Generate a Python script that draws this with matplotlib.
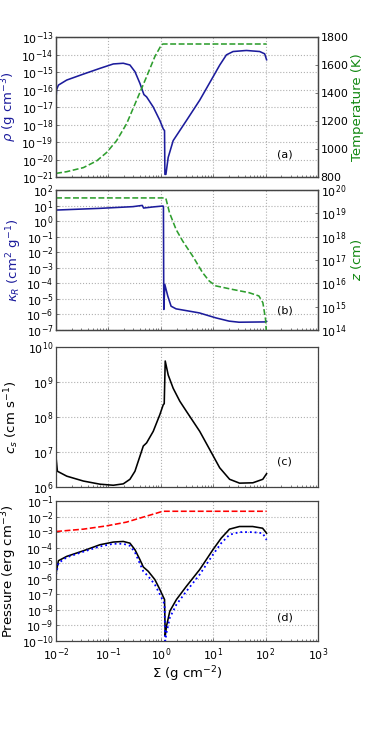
import numpy as np
import matplotlib
matplotlib.use("Agg")
import matplotlib.pyplot as plt

# ---------------- data (log10 values) ----------------
# Panel (a): density
rho_logS = [-2.0, -1.99, -1.956, -1.797, -1.479, -1.161, -0.907, -0.717, -0.590, -0.494,
            -0.399, -0.323, -0.272, -0.145, -0.018, 0.046, 0.071, 0.078, 0.097, 0.141,
            0.236, 0.490, 0.745, 0.999, 1.126, 1.253, 1.380, 1.634, 1.888, 1.983, 2.02]
rho_log = [-16.42, -16.0, -15.75, -15.46, -15.12, -14.79, -14.54, -14.50, -14.60, -14.98,
           -15.65, -16.29, -16.42, -17.0, -17.77, -18.25, -18.35, -20.85, -20.85, -19.88,
           -18.92, -17.77, -16.6, -15.27, -14.6, -14.02, -13.83, -13.77, -13.83, -13.96, -14.3]
# Panel (a): temperature (K)
T_logS = [-2.0, -1.797, -1.479, -1.225, -1.035, -0.844, -0.654, -0.463, -0.272, -0.114, 0.013, 0.045, 2.02]
T_K = [826, 838, 867, 915, 975, 1060, 1180, 1348, 1516, 1660, 1745, 1750, 1750]

# Panel (b): Rosseland opacity
kap_logS = [-2.0, -1.165, -0.532, -0.354, -0.329, -0.152, 0.038, 0.050, 0.057, 0.076,
            0.133, 0.196, 0.291, 0.734, 1.051, 1.304, 1.494, 2.0, 2.02]
kap_log = [0.71, 0.82, 0.93, 1.01, 0.84, 0.91, 0.97, 0.95, -5.68, -4.07,
           -4.82, -5.47, -5.64, -5.9, -6.22, -6.43, -6.5, -6.48, -6.45]
# Panel (b): height z (cm)
z_logS = [-2.0, 0.088, 0.101, 0.165, 0.291, 0.418, 0.608, 0.797, 0.924, 1.051, 1.367, 1.684,
          1.873, 1.949, 2.0, 2.013, 2.025]
z_log = [19.66, 19.66, 19.6, 19.03, 18.31, 17.81, 17.17, 16.46, 16.1, 15.89, 15.74, 15.6,
         15.46, 15.17, 14.46, 14.0, 13.5]

# Panel (c): sound speed
cs_logS = [-2.0, -1.975, -1.797, -1.479, -1.161, -0.907, -0.717, -0.590, -0.494, -0.399,
           -0.335, -0.272, -0.145, -0.018, 0.046, 0.065, 0.084, 0.141, 0.236, 0.363,
           0.490, 0.743, 0.934, 1.124, 1.314, 1.504, 1.757, 1.947, 2.02]
cs_log = [6.83, 6.45, 6.31, 6.17, 6.08, 6.05, 6.09, 6.22, 6.45, 6.88,
          7.17, 7.26, 7.59, 8.07, 8.35, 8.38, 9.6, 9.2, 8.82, 8.45,
          8.16, 7.59, 7.07, 6.55, 6.22, 6.11, 6.12, 6.22, 6.38]

# Panel (d): pressures
prad_logS = [-2.0, -1.481, -1.038, -0.658, -0.342, -0.089, 0.038, 2.02]
prad_log = [-2.96, -2.81, -2.6, -2.36, -2.04, -1.79, -1.66, -1.66]

p_logS = [-2.0, -1.956, -1.797, -1.479, -1.161, -0.907, -0.717, -0.590, -0.494, -0.399,
          -0.335, -0.240, -0.114, -0.018, 0.046, 0.071, 0.084, 0.109, 0.172, 0.299,
          0.489, 0.742, 0.995, 1.153, 1.311, 1.501, 1.754, 1.944, 2.02]
ptot_log = [-5.63, -4.84, -4.56, -4.2, -3.81, -3.64, -3.6, -3.71, -4.13, -4.77,
            -5.24, -5.52, -6.05, -6.69, -7.16, -7.33, -9.68, -9.04, -8.08, -7.33,
            -6.48, -5.41, -4.13, -3.39, -2.81, -2.64, -2.64, -2.75, -3.07]
pgas_log = [-5.73, -4.99, -4.62, -4.26, -3.92, -3.75, -3.75, -3.88, -4.3, -5.03,
            -5.52, -5.84, -6.37, -7.01, -7.44, -7.65, -10.0, -9.46, -8.5, -7.65,
            -6.8, -5.73, -4.45, -3.71, -3.17, -3.0, -3.0, -3.07, -3.5]

panel_tags = ["(a)", "(b)", "(c)", "(d)"]

# ---------------- styling ----------------
plt.rcParams['font.family'] = ['DejaVu Sans']
plt.rcParams['mathtext.fontset'] = 'dejavusans'
TICK_FS = 7.9
LAB_FS = 9.5
BLUE = '#1c1c9c'
GREEN = '#2e9e2e'
GREEN_LAB = '#118811'
SPINE = '#444444'
LW = 1.15

fig = plt.figure(figsize=(3.74, 7.47), dpi=100)
L, R = 0.150, 0.850
W = R - L
H = 140 / 747
tops = [37, 190, 347, 501]
axes = []
for t in tops:
    b = 1 - (t + 140) / 747
    axes.append(fig.add_axes([L, b, W, H]))

def style(ax, xlabels=False):
    ax.set_xscale('log')
    ax.set_xlim(1e-2, 1e3)
    ax.grid(True, which='major', linestyle=':', color='#b0b0b0', linewidth=0.8)
    for s in ax.spines.values():
        s.set_color(SPINE)
        s.set_linewidth(0.9)
    ax.tick_params(which='both', direction='in', labelsize=TICK_FS, colors='black', length=2.5, width=0.5)
    ax.tick_params(which='minor', length=1.5)
    ax.tick_params(axis='both', which='both', color=SPINE, pad=2)
    if not xlabels:
        ax.tick_params(axis='x', labelbottom=False)

def S(v):
    return 10 ** np.array(v)

def style_twin(ax2):
    ax2.tick_params(direction='in', labelsize=TICK_FS, length=2.5, width=0.5, color=SPINE, pad=2)
    for s in ax2.spines.values():
        s.set_color(SPINE)
        s.set_linewidth(0.9)

# (a)
ax = axes[0]
style(ax)
ax.plot(S(rho_logS), S(rho_log), color=BLUE, lw=LW)
ax.set_yscale('log')
ax.set_ylim(1e-21, 1e-13)
ax.set_yticks([10.0 ** k for k in range(-21, -12)])
ax.yaxis.set_minor_locator(matplotlib.ticker.NullLocator())
ax.set_ylabel(r'$\rho$ (g cm$^{-3}$)', color=BLUE, fontsize=LAB_FS, labelpad=2)
ax2 = ax.twinx()
ax2.plot(S(T_logS), T_K, color=GREEN, lw=LW, ls='--')
ax2.set_ylim(800, 1800)
ax2.set_yticks([800, 1000, 1200, 1400, 1600, 1800])
style_twin(ax2)
ax2.set_ylabel('Temperature (K)', color=GREEN_LAB, fontsize=LAB_FS, labelpad=2)
ax.set_xlim(1e-2, 1e3)

# (b)
ax = axes[1]
style(ax)
ax.plot(S(kap_logS), S(kap_log), color=BLUE, lw=LW)
ax.set_yscale('log')
ax.set_ylim(1e-7, 1e2)
ax.set_yticks([10.0 ** k for k in range(-7, 3)])
ax.yaxis.set_minor_locator(matplotlib.ticker.NullLocator())
ax.set_ylabel(r'$\kappa_R$ (cm$^2$ g$^{-1}$)', color=BLUE, fontsize=LAB_FS, labelpad=2)
ax2 = ax.twinx()
ax2.plot(S(z_logS), S(z_log), color=GREEN, lw=LW, ls='--')
ax2.set_yscale('log')
ax2.set_ylim(1e14, 1e20)
ax2.set_yticks([10.0 ** k for k in range(14, 21)])
ax2.yaxis.set_minor_locator(matplotlib.ticker.NullLocator())
style_twin(ax2)
ax2.set_ylabel(r'$z$ (cm)', color=GREEN_LAB, fontsize=LAB_FS, labelpad=2)
ax.set_xlim(1e-2, 1e3)

# (c)
ax = axes[2]
style(ax)
ax.plot(S(cs_logS), S(cs_log), color='black', lw=LW)
ax.set_yscale('log')
ax.set_ylim(1e6, 1e10)
ax.set_yticks([10.0 ** k for k in range(6, 11)])
ax.yaxis.set_minor_locator(matplotlib.ticker.NullLocator())
ax.set_ylabel(r'$c_s$ (cm s$^{-1}$)', fontsize=LAB_FS, labelpad=5)

# (d)
ax = axes[3]
style(ax, xlabels=True)
ax.plot(S(prad_logS), S(prad_log), color='red', lw=LW, ls='--')
ax.plot(S(p_logS), S(ptot_log), color='black', lw=LW)
ax.plot(S(p_logS), S(pgas_log), color='blue', lw=1.3, ls=':')
ax.set_yscale('log')
ax.set_ylim(1e-10, 1e-1)
ax.set_yticks([10.0 ** k for k in range(-10, 0)])
ax.yaxis.set_minor_locator(matplotlib.ticker.NullLocator())
ax.set_ylabel(r'Pressure (erg cm$^{-3}$)', fontsize=LAB_FS, labelpad=2)
ax.set_xlabel(r'$\Sigma$ (g cm$^{-2}$)', fontsize=LAB_FS, labelpad=1)
ax.set_xticks([10.0 ** k for k in range(-2, 4)])
ax.tick_params(axis='x', pad=4)

tag_y = [0.16, 0.14, 0.18, 0.17]
for a, tag, ty in zip(axes, panel_tags, tag_y):
    a.text(0.874, ty, tag, transform=a.transAxes, fontsize=8, ha='center', va='center')

fig.savefig('out.png', dpi=100)
